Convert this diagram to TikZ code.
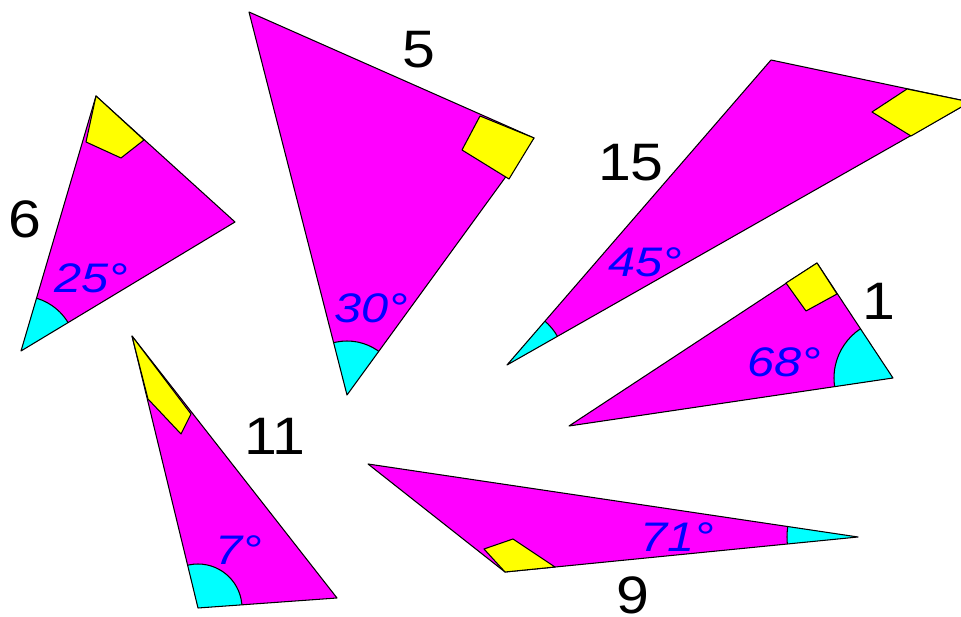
\documentclass[tikz,border=0pt]{standalone}
\usepackage{fontspec}
\setmainfont{Liberation Sans}
\usetikzlibrary{calc}
\definecolor{trifill}{HTML}{FF00FF}
\definecolor{boxfill}{HTML}{FFFF00}
\definecolor{arcfill}{HTML}{00FFFF}
\definecolor{anglec}{HTML}{0000FF}
\newcommand{\SideF}{\fontsize{30}{36}\selectfont}
\newcommand{\AngleF}{\fontsize{23.5}{28}\selectfont\itshape}
\tikzset{
  tri/.style={fill=trifill},
  edge/.style={draw=black, line width=0.6pt, line join=round},
  rightbox/.style={fill=boxfill, draw=black, line width=0.6pt, line join=round},
  anglemark/.style={fill=arcfill, draw=black, line width=0.6pt},
  sidelabel/.style={font=\SideF, text=black, inner sep=0pt, xscale=1.12},
  anglelabel/.style={font=\AngleF, text=anglec, inner sep=0pt, xscale=1.18}
}
% #1,#2,#3 = corners (marked angle at #3), #4 = radius of the mark
\newcommand{\RightTri}[4]{%
  \fill[tri] (#1) -- (#2) -- (#3) -- cycle;
  \begin{scope}
    \clip (#1) -- (#2) -- (#3) -- cycle;
    \filldraw[anglemark] (#3) circle[radius=#4];
  \end{scope}
  \draw[edge] (#1) -- (#2) -- (#3) -- cycle;}

\begin{document}
\begin{tikzpicture}[x=0.02cm, y=-0.02cm]
  \useasboundingbox (0,0) rectangle (961,617);

  % left: 6 and 25
  \coordinate (a6) at (96,96);
  \coordinate (b6) at (235,222);
  \coordinate (c6) at (21,351);
  \RightTri{a6}{b6}{c6}{1.1cm}
  \filldraw[rightbox] (a6) -- (86,142) -- (121,158) -- (144,140) -- cycle;
  \node[sidelabel] (side6) at (25,219) {6};
  \node[anglelabel] (ang25) at (91,278) {25°};

  % top: 5 and 30
  \coordinate (a5) at (249,12);
  \coordinate (b5) at (534,138);
  \coordinate (c5) at (347,395);
  \RightTri{a5}{b5}{c5}{1.08cm}
  \filldraw[rightbox] (b5) -- (480,116) -- (462,150) -- (509,179) -- cycle;
  \node[sidelabel] (side5) at (419,50) {5};
  \node[anglelabel] (ang30) at (371,308) {30°};

  % top right: 15 and 45
  \coordinate (a15) at (771,60);
  \coordinate (b15) at (970,102);
  \coordinate (c15) at (507,365);
  \RightTri{a15}{b15}{c15}{1.16cm}
  \filldraw[rightbox] (b15) -- (907,89) -- (872,112) -- (911,136) -- cycle;
  \node[sidelabel] (side15) at (631,163) {15};
  \node[anglelabel] (ang45) at (645,262) {45°};

  % right: 1 and 68
  \coordinate (a1) at (817,263);
  \coordinate (b1) at (893,378);
  \coordinate (c1) at (569,426);
  \RightTri{a1}{c1}{b1}{1.18cm}
  \filldraw[rightbox] (a1) -- (786,283) -- (806,311) -- (837,294) -- cycle;
  \node[sidelabel] (side1) at (879,301) {1};
  \node[anglelabel] (ang68) at (784,362) {68°};

  % bottom left: 11 and 7
  \coordinate (a11) at (132,336);
  \coordinate (b11) at (337,598);
  \coordinate (c11) at (198,608);
  \RightTri{a11}{b11}{c11}{0.88cm}
  \filldraw[rightbox] (a11) -- (148,399) -- (181,434) -- (191,414) -- cycle;
  \node[sidelabel] (side11) at (275,436) {11};
  \node[anglelabel] (ang7) at (239,550) {7°};

  % bottom: 9 and 71
  \coordinate (a9) at (368,464);
  \coordinate (b9) at (858,537);
  \coordinate (c9) at (505,572);
  \RightTri{a9}{c9}{b9}{1.42cm}
  \filldraw[rightbox] (c9) -- (484,549) -- (513,539) -- (555,567) -- cycle;
  \node[sidelabel] (side9) at (633,595) {9};
  \node[anglelabel] (ang71) at (677,537) {71°};
\end{tikzpicture}
\end{document}
